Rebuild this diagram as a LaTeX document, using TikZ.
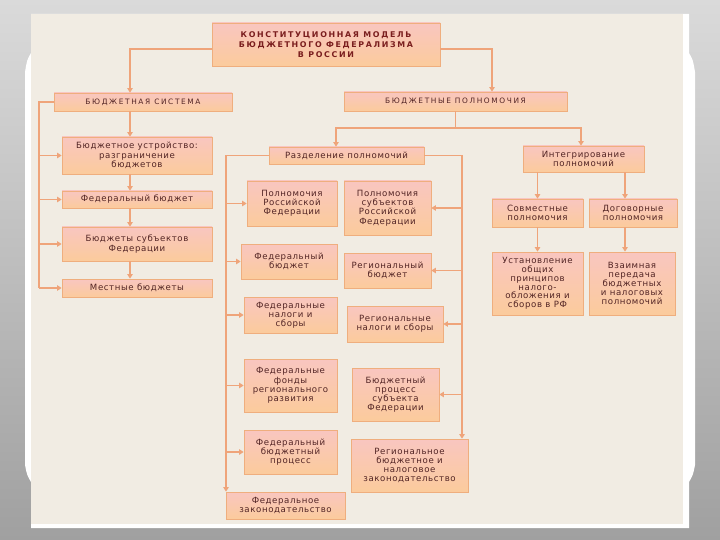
\documentclass[tikz,border=0pt]{standalone}
\usepackage{fontspec}
\setmainfont{DejaVu Sans}[LetterSpace=7]
\newfontfamily\capsfont{DejaVu Sans}[LetterSpace=22]
\newfontfamily\titlefont{DejaVu Sans}[LetterSpace=21]
\usetikzlibrary{arrows.meta,calc}
\definecolor{beige}{HTML}{F1ECE3}
\definecolor{graytop}{HTML}{DADADA}
\definecolor{graybot}{HTML}{A0A0A0}
\definecolor{boxtop}{HTML}{F9C6C0}
\definecolor{boxbot}{HTML}{FBCB9C}
\definecolor{boxline}{HTML}{EFAE7E}
\definecolor{lnc}{HTML}{EFA47A}
\definecolor{txt}{HTML}{522424}
\definecolor{ttl}{HTML}{7A1E1E}
\tikzset{
  box/.style={draw=boxline, line width=0.8pt, top color=boxtop, bottom color=boxbot,
    inner sep=1pt, align=center, text=txt, font=\fontsize{8.6}{9.2}\selectfont},
  capbox/.style={box, font=\capsfont\fontsize{7.4}{8.5}\selectfont},
  conn/.style={draw=lnc, line width=1.1pt, -{Triangle[width=5.5pt,length=4.5pt]}},
  lnk/.style={draw=lnc, line width=1.1pt},
}
\begin{document}
\begin{tikzpicture}[x=1pt,y=-1pt]
\useasboundingbox (0,0) rectangle (720,540);
% background
\shade[top color=graytop, bottom color=graybot] (0,0) rectangle (720,540);
\fill[white] (31,14) -- (31,53) .. controls (27,60) .. (25,72) -- (25,465)
  .. controls (27,475) .. (31,482) -- (31,528) -- (689,528) -- (689,482)
  .. controls (693,475) .. (695,465) -- (695,72) .. controls (693,60) .. (689,53)
  -- (689,14) -- cycle;
\fill[beige] (31,14) rectangle (683,524);
% nodes
\node[box, minimum width=228pt, minimum height=43pt, text=ttl,
  font=\titlefont\bfseries\fontsize{7.9}{10}\selectfont] (title) at (326,44.5)
  {КОНСТИТУЦИОННАЯ МОДЕЛЬ\\БЮДЖЕТНОГО ФЕДЕРАЛИЗМА\\В РОССИИ};
\node[capbox, minimum width=178pt, minimum height=18pt] (bs) at (143,102) {БЮДЖЕТНАЯ СИСТЕМА};
\node[capbox, minimum width=223pt, minimum height=19pt] (bp) at (455.5,101.5) {БЮДЖЕТНЫЕ ПОЛНОМОЧИЯ};
\node[box, minimum width=150pt, minimum height=37pt] (l1) at (137,155.5) {Бюджетное устройство:\\разграничение\\бюджетов};
\node[box, minimum width=150pt, minimum height=17pt] (l2) at (137,199.5) {Федеральный бюджет};
\node[box, minimum width=150pt, minimum height=34pt] (l3) at (137,244) {Бюджеты субъектов\\Федерации};
\node[box, minimum width=150pt, minimum height=18pt] (l4) at (137,288) {Местные бюджеты};
\node[box, minimum width=155pt, minimum height=17pt] (razd) at (346.5,155.5) {Разделение полномочий};
\node[box, minimum width=121pt, minimum height=26pt] (integ) at (583.5,159) {Интегрирование\\полномочий};
\node[box, minimum width=90pt, minimum height=45pt] (m1) at (292,203.5) {Полномочия\\Российской\\Федерации};
\node[box, minimum width=87pt, minimum height=54pt] (r1) at (387.5,208) {Полномочия\\субъектов\\Российской\\Федерации};
\node[box, minimum width=96pt, minimum height=35pt] (m2) at (289,261.5) {Федеральный\\бюджет};
\node[box, minimum width=87pt, minimum height=35pt] (r2) at (387.5,270.5) {Региональный\\бюджет};
\node[box, minimum width=93pt, minimum height=36pt] (m3) at (290.5,315) {Федеральные\\налоги и\\сборы};
\node[box, minimum width=96pt, minimum height=36pt] (r3) at (395,324) {Региональные\\налоги и сборы};
\node[box, minimum width=93pt, minimum height=53pt] (m4) at (290.5,385.5) {Федеральные\\фонды\\регионального\\развития};
\node[box, minimum width=87pt, minimum height=53pt] (r4) at (395.5,394.5) {Бюджетный\\процесс\\субъекта\\Федерации};
\node[box, minimum width=93pt, minimum height=44pt] (m5) at (290.5,452) {Федеральный\\бюджетный\\процесс};
\node[box, minimum width=117pt, minimum height=53pt] (r5) at (409.5,465.5) {Региональное\\бюджетное и\\налоговое\\законодательство};
\node[box, minimum width=119pt, minimum height=27pt] (m6) at (285.5,505.5) {Федеральное\\законодательство};
\node[box, minimum width=91pt, minimum height=28pt] (sovm) at (537.5,213) {Совместные\\полномочия};
\node[box, minimum width=88pt, minimum height=28pt] (dogov) at (633,213) {Договорные\\полномочия};
\node[box, minimum width=91pt, minimum height=63pt, font=\fontsize{8.6}{8.8}\selectfont] (ust) at (537.5,283.5) {Установление\\общих\\принципов\\налого-\\обложения и\\сборов в РФ};
\node[box, minimum width=86pt, minimum height=63pt] (vzaim) at (632,283.5) {Взаимная\\передача\\бюджетных\\и налоговых\\полномочий};
% connectors
\draw[conn] (title.west |- 0,49) -| (bs.north -| 130,0);
\draw[conn] (title.east |- 0,49) -| (bp.north -| 492,0);
\coordinate (lv) at (39,0);
\draw[lnk] (bs.west) -| (lv |- l4.west);
\foreach \n in {l1,l2,l3,l4} \draw[conn] (lv |- \n.west) -- (\n.west);
\draw[conn] (bs.south -| 130,0) -- (l1.north -| 130,0);
\draw[conn] (l1.south -| 130,0) -- (l2.north -| 130,0);
\draw[conn] (l2.south -| 130,0) -- (l3.north -| 130,0);
\draw[conn] (l3.south -| 130,0) -- (l4.north -| 130,0);
\coordinate (hb) at (455,128);
\draw[lnk] (bp.south) -- (bp.south |- hb);
\draw[conn] (bp.south |- hb) -| (razd.north -| 336,0);
\draw[conn] (bp.south |- hb) -| (integ.north -| 581,0);
\coordinate (mv) at (226,0);
\coordinate (rv) at (462,0);
\draw[conn] (razd.west) -| (m6.north -| mv);
\foreach \n in {m1,m2,m3,m4,m5} \draw[conn] (mv |- \n.west) -- (\n.west);
\draw[conn] (razd.east) -| (r5.north -| rv);
\foreach \n in {r1,r2,r3,r4} \draw[conn] (rv |- \n.east) -- (\n.east);
\draw[conn] (integ.south -| sovm.north) -- (sovm.north);
\draw[conn] (integ.south -| 625,0) -- (dogov.north -| 625,0);
\draw[conn] (sovm.south) -- (ust.north);
\draw[conn] (dogov.south -| 625,0) -- (vzaim.north -| 625,0);
\end{tikzpicture}
\end{document}
